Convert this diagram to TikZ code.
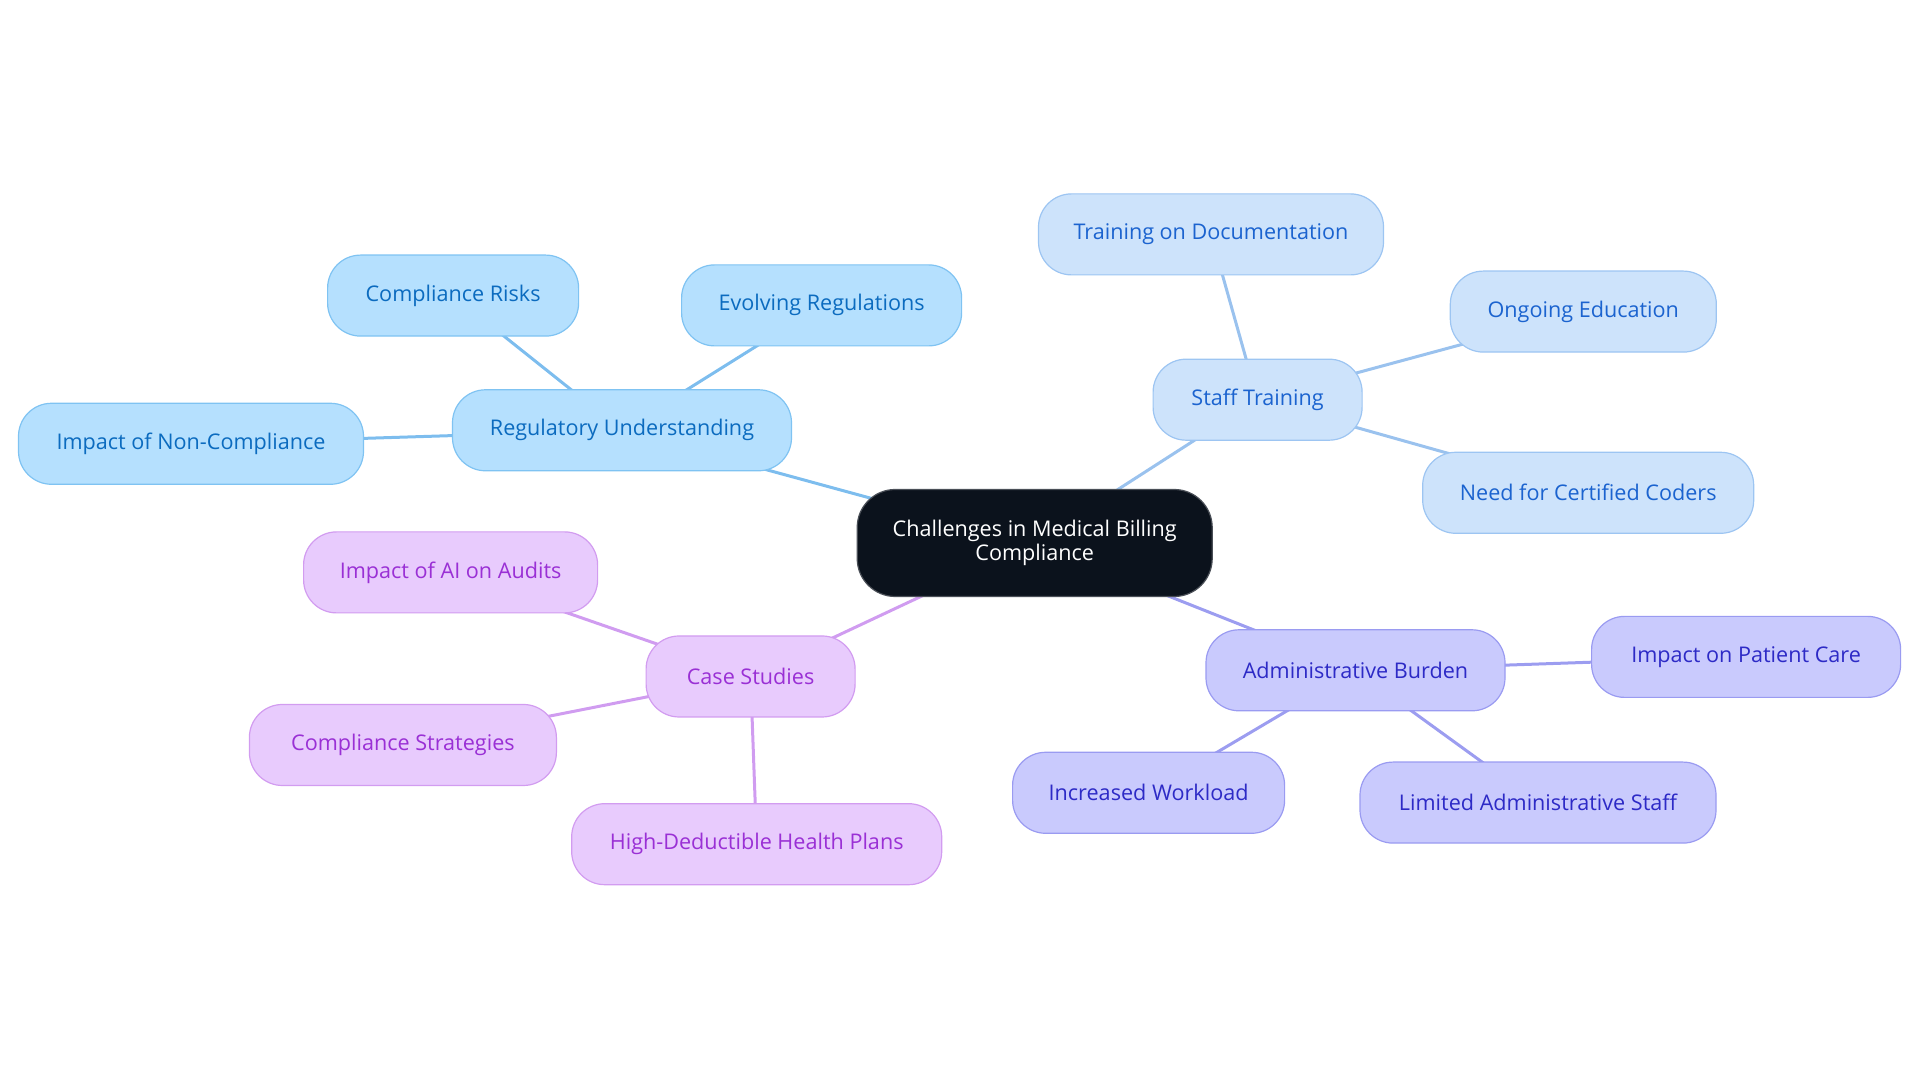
\documentclass[tikz,border=0pt]{standalone}
\usepackage{fontspec}
\setmainfont{Open Sans}
\usetikzlibrary{backgrounds}
\definecolor{rfill}{HTML}{B5E0FE}
\definecolor{rdraw}{HTML}{7FC3F2}
\definecolor{rtext}{HTML}{0B6BBF}
\definecolor{rline}{HTML}{7DBDEE}
\definecolor{sfill}{HTML}{CDE3FB}
\definecolor{sdraw}{HTML}{9DC5F2}
\definecolor{stext}{HTML}{1B63CF}
\definecolor{sline}{HTML}{9AC2EE}
\definecolor{afill}{HTML}{C9CAFD}
\definecolor{adraw}{HTML}{9A9BF1}
\definecolor{atext}{HTML}{2D2AC6}
\definecolor{aline}{HTML}{9C9DF0}
\definecolor{cfill}{HTML}{E8CBFD}
\definecolor{cdraw}{HTML}{D29CF0}
\definecolor{ctext}{HTML}{9A30D5}
\definecolor{cline}{HTML}{D09CF0}
\definecolor{centerfill}{HTML}{0B121C}
\definecolor{centerdraw}{HTML}{4A4F57}
\tikzset{
  box/.style={rounded corners=33pt, minimum height=81pt, inner sep=0pt, line width=1.2pt, font=\fontsize{21.6}{23.5}\selectfont, align=center},
  rbox/.style={box, fill=rfill, draw=rdraw, text=rtext},
  sbox/.style={box, fill=sfill, draw=sdraw, text=stext},
  abox/.style={box, fill=afill, draw=adraw, text=atext},
  cbox/.style={box, fill=cfill, draw=cdraw, text=ctext},
  mainbox/.style={box, rounded corners=38pt, minimum height=107pt, fill=centerfill, draw=centerdraw, text=white},
  link/.style={line width=3pt},
}
\begin{document}
\begin{tikzpicture}[x=1pt,y=1pt]
\useasboundingbox (0,0) rectangle (1920,1083);
\node[mainbox, minimum width=355pt] (main) at (1034.7,540.0) {Challenges in Medical Billing\\Compliance};
\node[rbox, minimum width=339pt] (reg) at (622.0,652.7) {Regulatory Understanding};
\node[rbox, minimum width=251pt] (risk) at (453.1,787.4) {Compliance Risks};
\node[rbox, minimum width=280pt] (evol) at (821.6,777.6) {Evolving Regulations};
\node[rbox, minimum width=345pt] (nonc) at (191.0,639.2) {Impact of Non-Compliance};
\node[sbox, minimum width=209pt] (staff) at (1257.6,683.3) {Staff Training};
\node[sbox, minimum width=345pt] (doc) at (1211.0,848.6) {Training on Documentation};
\node[sbox, minimum width=266pt] (ongo) at (1583.3,771.4) {Ongoing Education};
\node[sbox, minimum width=331pt] (cert) at (1588.2,590.2) {Need for Certified Coders};
\node[abox, minimum width=299pt] (adm) at (1355.5,412.7) {Administrative Burden};
\node[abox, minimum width=309pt] (pat) at (1746.1,426.1) {Impact on Patient Care};
\node[abox, minimum width=272pt] (work) at (1148.6,290.2) {Increased Workload};
\node[abox, minimum width=356pt] (lim) at (1538.0,280.4) {Limited Administrative Staff};
\node[cbox, minimum width=209pt] (case) at (750.6,406.5) {Case Studies};
\node[cbox, minimum width=294pt] (ai) at (450.6,510.6) {Impact of AI on Audits};
\node[cbox, minimum width=307pt] (strat) at (402.9,338.0) {Compliance Strategies};
\node[cbox, minimum width=370pt] (hdhp) at (756.7,238.8) {High-Deductible Health Plans};
\begin{scope}[on background layer]
\draw[link, rline] (main.center) -- (reg.center);
\draw[link, rline] (reg.center) -- (risk.center);
\draw[link, rline] (reg.center) -- (evol.center);
\draw[link, rline] (reg.center) -- (nonc.center);
\draw[link, sline] (main.center) -- (staff.center);
\draw[link, sline] (staff.center) -- (doc.center);
\draw[link, sline] (staff.center) -- (ongo.center);
\draw[link, sline] (staff.center) -- (cert.center);
\draw[link, aline] (main.center) -- (adm.center);
\draw[link, aline] (adm.center) -- (pat.center);
\draw[link, aline] (adm.center) -- (work.center);
\draw[link, aline] (adm.center) -- (lim.center);
\draw[link, cline] (main.center) -- (case.center);
\draw[link, cline] (case.center) -- (ai.center);
\draw[link, cline] (case.center) -- (strat.center);
\draw[link, cline] (case.center) -- (hdhp.center);
\end{scope}
\end{tikzpicture}
\end{document}
